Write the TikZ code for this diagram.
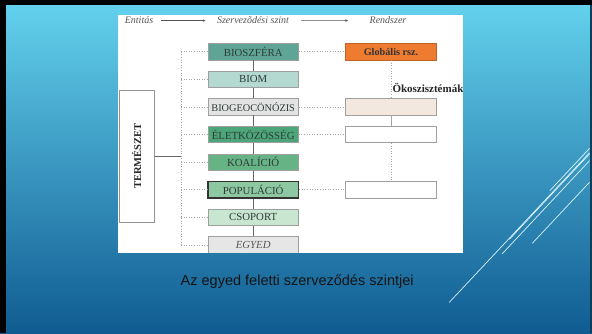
\documentclass[tikz,border=0pt]{standalone}
\usepackage{fontspec}
\setmainfont{Liberation Serif}
\newfontfamily\capfont{Liberation Sans}
\usetikzlibrary{arrows.meta}
\definecolor{bgtop}{HTML}{64D2EE}
\definecolor{bgbot}{HTML}{105C92}
\definecolor{edgedark}{HTML}{0B3F5C}
\definecolor{cbios}{HTML}{5FA595}
\definecolor{cbiom}{HTML}{B4D9D1}
\definecolor{cgeo}{HTML}{E3E3E3}
\definecolor{celet}{HTML}{4DA57A}
\definecolor{ckoal}{HTML}{66B386}
\definecolor{cpop}{HTML}{8DC8A2}
\definecolor{ccsop}{HTML}{C8E6D0}
\definecolor{cegyed}{HTML}{E6E6E6}
\definecolor{cglob}{HTML}{EE7B2F}
\definecolor{cbeige}{HTML}{F2E8E0}
\definecolor{boxtext}{HTML}{2E3B36}
\definecolor{headtext}{HTML}{555555}
\tikzset{
  lvlbox/.style={draw=gray!75, line width=0.6pt, minimum width=90.5pt, minimum height=16.5pt,
    inner sep=0pt, text=boxtext, font=\fontsize{10.8}{12}\selectfont},
  sysbox/.style={lvlbox, fill=white},
  dotlink/.style={draw=gray!70, line width=0.6pt, dotted},
  sollink/.style={draw=gray!80!black, line width=0.7pt},
  headtxt/.style={text=headtext, font=\itshape\fontsize{10}{12}\selectfont, inner sep=0pt, anchor=base},
  headarrow/.style={draw=headtext, line width=0.5pt, -{Latex[length=3pt,width=2.4pt]}},
  deco/.style={draw=white!85!cyan, line width=0.7pt}
}
\begin{document}
\begin{tikzpicture}[x=1pt,y=-1pt]
\useasboundingbox (0,0) rectangle (592,333);
% background
\shade[top color=bgtop, bottom color=bgbot] (0,0) rectangle (592,333);
\fill[black] (0,0) rectangle (592,5);
\fill[black] (0,0) rectangle (6,333);
\fill[edgedark] (589.5,5) rectangle (592,333);
% decorative lines
\draw[deco] (449.3,302.3) -- (589.5,152.8);
\draw[deco] (549.8,190.7) -- (589.5,148.4);
\draw[deco] (509.4,239.3) -- (589.5,153.9);
\draw[deco] (502.0,254.0) -- (589.5,160.7);
\draw[deco] (532.3,243.3) -- (589.5,182.3);
% white panel
\fill[white] (118,15) rectangle (462.6,252.7);
\begin{scope}
\clip (118,15) rectangle (462.6,252.7);
% header
\node[headtxt] (ent) at (139,23.5) {Entitás};
\node[headtxt] (szint) at (253,23.5) {Szervezõdési szint};
\node[headtxt] (rend) at (388,23.5) {Rendszer};
\path (ent.east) ++(8,0.5) coordinate (a1s);
\path (szint.west) ++(-11,0.5) coordinate (a1e);
\path (szint.east) ++(12,0.5) coordinate (a2s);
\path (rend.west) ++(-21,0.5) coordinate (a2e);
\draw[headarrow] (a1s) -- (a1e);
\draw[headarrow] (a2s) -- (a2e);
% level boxes
\node[lvlbox, fill=cbios]  (bios)  at (253.2,51.7)  {BIOSZFÉRA};
\node[lvlbox, fill=cbiom]  (biom)  at (253.2,79.3)  {BIOM};
\node[lvlbox, fill=cgeo, font=\fontsize{10.3}{12}\selectfont] (geo) at (253.2,106.9) {BIOGEOCÖNÓZIS};
\node[lvlbox, fill=celet]  (elet)  at (253.2,134.5) {ÉLETKÖZÖSSÉG};
\node[lvlbox, fill=ckoal]  (koal)  at (253.2,162.1) {KOALÍCIÓ};
\node[lvlbox, fill=cpop, draw=black!80, line width=1.4pt] (pop) at (253.2,189.7) {POPULÁCIÓ};
\node[lvlbox, fill=ccsop]  (csop)  at (253.2,217.3) {CSOPORT};
\node[lvlbox, fill=cegyed, font=\itshape\fontsize{10.8}{12}\selectfont, text=headtext] (egyed) at (253.2,244.9) {EGYED};
% system boxes
\node[lvlbox, fill=cglob, draw=cglob!80!black, font=\bfseries\fontsize{10.2}{12}\selectfont, text=black!80] (glob) at (391,51.7) {Globális rsz.};
\node[sysbox, fill=cbeige] (r1) at (391,106.9) {};
\node[sysbox] (r2) at (391,134.5) {};
\node[sysbox] (r3) at (391,189.7) {};
\node[anchor=west, inner sep=0pt, font=\bfseries\fontsize{11}{12}\selectfont, text=black!85] (oko) at (392.3,87.5) {Ökoszisztémák};
% nature box
\node[draw=gray!85, line width=0.7pt, fill=white, rotate=90, minimum width=132.3pt, minimum height=35.3pt,
  inner sep=0pt, font=\bfseries\fontsize{10.5}{12}\selectfont, text=black!85] (term) at (136.7,156.2) {TERMÉSZET};
% spine
\coordinate (spT) at (181,51.7);
\coordinate (spB) at (181,244.9);
\draw[dotlink] (spT) -- (spB);
\draw[sollink] (term.south) -- (spT |- term.south);
\foreach \n in {bios,biom,geo,elet,koal,pop,csop,egyed}{
  \draw[dotlink] (spT |- \n.west) -- (\n.west);
}
% solid chain
\draw[sollink] (bios.south) -- (biom.north);
\draw[sollink] (biom.south) -- (geo.north);
\draw[sollink] (geo.south) -- (elet.north);
\draw[sollink] (elet.south) -- (koal.north);
\draw[sollink] (koal.south) -- (pop.north);
\draw[sollink] (pop.south) -- (csop.north);
\draw[sollink] (csop.south) -- (egyed.north);
% level to system
\draw[dotlink] (bios.east) -- (glob.west);
\draw[dotlink] (geo.east) -- (r1.west);
\draw[dotlink] (elet.east) -- (r2.west);
\draw[dotlink] (pop.east) -- (r3.west);
% system chain
\draw[dotlink] (glob.south) -- (r1.north);
\draw[sollink, draw=gray!70] (r1.south) -- (r2.north);
\draw[dotlink] (r2.south) -- (r3.north);
\end{scope}
% caption
\node[anchor=base, inner sep=0pt, font=\capfont\fontsize{14.5}{16}\selectfont, text=black!92] (cap) at (297.2,285.5) {Az egyed feletti szerveződés szintjei};
\end{tikzpicture}
\end{document}
